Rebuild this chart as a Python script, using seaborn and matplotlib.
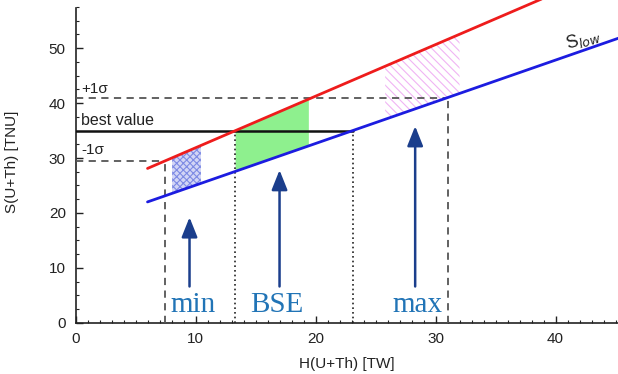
import numpy as np
import pandas as pd
import matplotlib
matplotlib.use("Agg")
import matplotlib.pyplot as plt
import seaborn as sns

# Signal vs. heat lines (end points of each straight line)
h_line = [6.0, 46.0]
s_high = [28.1, 65.7]   # upper model (red)
s_low = [22.0, 52.4]    # S_low model (blue)

# Measured signal: best value and 1-sigma band [TNU]
best_value = 35.0
plus_sigma = 41.0
minus_sigma = 29.5

# Heat values where the measured levels cross the model lines [TW]
h_minus_cross = 7.45
h_best_cross = [13.3, 23.1]
h_plus_cross = 31.0

# Model ranges (min / BSE / max) in H [TW]
band_names = ["min", "BSE", "max"]
band_lo = [8.05, 13.3, 25.8]
band_hi = [10.45, 19.4, 32.0]

# Arrows and their labels
arrow_h = [9.5, 17.0, 28.3]
arrow_top = [19.2, 27.8, 35.8]
arrow_base = 6.6
label_h = [9.8, 16.75, 28.5]
label_base = 1.95

sns.set_style("ticks")
plt.rcParams["font.family"] = ["Liberation Sans", "DejaVu Sans"]
plt.rcParams["hatch.linewidth"] = 0.8

W, H = 618, 374
fig = plt.figure(figsize=(W / 100, H / 100), dpi=100)
left_px, bottom_px = 75.5, 374 - 322.7
ax = fig.add_axes([left_px / W, bottom_px / H, 1 - left_px / W, 1 - bottom_px / H])

lines = pd.DataFrame({
    "H": h_line + h_line,
    "S": s_high + s_low,
    "model": ["high"] * 2 + ["low"] * 2,
})
sns.lineplot(data=lines, x="H", y="S", hue="model",
             palette={"high": "#ee1c1c", "low": "#1c1ce0"},
             linewidth=2.0, legend=False, ax=ax, zorder=4)

# Shaded model ranges between the two lines
styles = [
    dict(facecolor="#d2d5f6", hatch="xxxxx", edgecolor="#7d8ae4", linewidth=0),
    dict(facecolor="#8ef08e", linewidth=0),
    dict(facecolor="white", hatch="\\\\\\\\", edgecolor="#f0b4f4", linewidth=0),
]
for lo, hi, st in zip(band_lo, band_hi, styles):
    hh = np.array([lo, hi])
    ax.fill_between(hh, np.interp(hh, h_line, s_low), np.interp(hh, h_line, s_high),
                    zorder=2, **st)

dash_kw = dict(color="#555555", linewidth=1.3, linestyle=(0, (4, 3)), zorder=3)
dot_kw = dict(color="#222222", linewidth=1.2, linestyle=(0, (1.0, 1.8)), zorder=3)

# +/-1 sigma levels and their projections onto the H axis
ax.plot([0, h_plus_cross], [plus_sigma, plus_sigma], **dash_kw)
ax.plot([h_plus_cross, h_plus_cross], [0, plus_sigma], **dash_kw)
ax.plot([0, h_minus_cross], [minus_sigma, minus_sigma], **dash_kw)
ax.plot([h_minus_cross, h_minus_cross], [0, minus_sigma], **dash_kw)

# best value and its projections
ax.plot([0, h_best_cross[1]], [best_value, best_value], color="#111111", linewidth=1.8, zorder=3)
for hx in h_best_cross:
    ax.plot([hx, hx], [0, best_value], **dot_kw)

ax.text(0.45, 42.5, "+1σ", fontsize=11, ha="left", va="center", color="#222222")
ax.text(0.45, 36.8, "best value", fontsize=11.5, ha="left", va="center", color="#222222")
ax.text(0.45, 31.4, "-1σ", fontsize=11, ha="left", va="center", color="#222222")

ax.text(42.3, 51.6, r"S$_{low}$", fontsize=13, rotation=17, ha="center", va="center",
        rotation_mode="anchor", color="#222222")

for name, hx, top, lx in zip(band_names, arrow_h, arrow_top, label_h):
    ax.annotate("", xy=(hx, top), xytext=(hx, arrow_base),
                arrowprops=dict(arrowstyle="-|>,head_width=0.4,head_length=1.0",
                                color="#1b3e8c", lw=1.8, mutation_scale=12,
                                shrinkA=0, shrinkB=0), zorder=5)
    ax.text(lx, label_base, name, fontsize=21, family=["Liberation Serif", "DejaVu Serif"],
            color="#2174b6", ha="center", va="baseline", zorder=5)

ax.set_xlim(0, 45.2)
ax.set_ylim(0, 322.7 / 5.49)
ax.set_xticks([0, 10, 20, 30, 40])
ax.set_yticks([0, 10, 20, 30, 40, 50])
ax.xaxis.set_minor_locator(matplotlib.ticker.MultipleLocator(1))
ax.yaxis.set_minor_locator(matplotlib.ticker.MultipleLocator(2.5))
ax.tick_params(which="both", direction="in", colors="#222222", labelsize=11)
ax.tick_params(which="major", length=5, width=1.0, pad=7)
ax.tick_params(which="minor", length=2.5, width=0.8)

sns.despine(ax=ax)
ax.spines["left"].set_bounds(0, 57.3)
for sp in ("left", "bottom"):
    ax.spines[sp].set_linewidth(1.2)
    ax.spines[sp].set_color("#222222")

ax.set_xlabel("H(U+Th) [TW]", fontsize=11, color="#222222")
ax.set_ylabel("S(U+Th) [TNU]", fontsize=11, color="#222222")
ax.xaxis.set_label_coords(0.5, -0.106)
ax.yaxis.set_label_coords(-0.104, 0.5)

fig.savefig("out.png", dpi=100)
